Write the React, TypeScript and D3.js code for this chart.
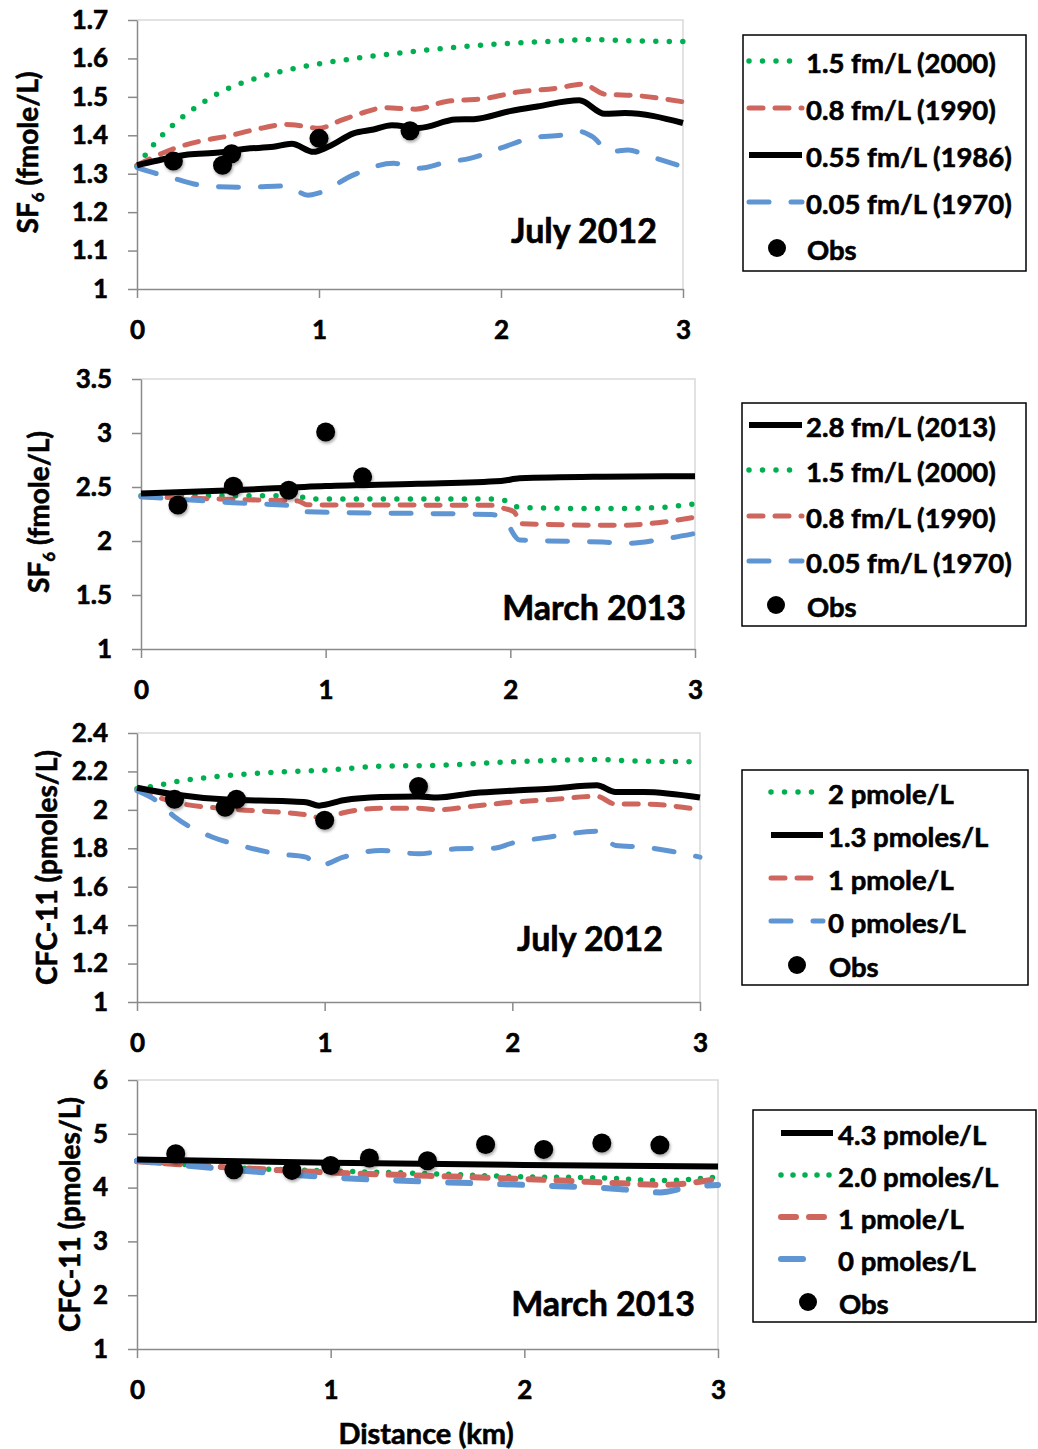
import React, { useEffect, useRef } from "react";
import * as d3 from "d3";

type Pt = [number, number];

// ---- SF6, July 2012 ----
const sf6Jul2000: Pt[] = [[0, 1.32], [0.04, 1.345], [0.09, 1.375], [0.2, 1.428], [0.3, 1.465], [0.47, 1.515], [0.6, 1.54], [0.8, 1.567], [1.0, 1.586], [1.2, 1.6], [1.4, 1.612], [1.7, 1.627], [2.0, 1.638], [2.3, 1.645], [2.49, 1.649], [2.7, 1.646], [3.0, 1.644]];
const sf6Jul1990: Pt[] = [[0, 1.322], [0.1, 1.345], [0.2, 1.365], [0.35, 1.385], [0.5, 1.398], [0.65, 1.415], [0.82, 1.428], [0.9, 1.425], [1.0, 1.418], [1.1, 1.435], [1.25, 1.46], [1.36, 1.472], [1.53, 1.468], [1.7, 1.488], [1.9, 1.495], [2.1, 1.513], [2.3, 1.522], [2.45, 1.533], [2.57, 1.507], [2.75, 1.503], [3.0, 1.487]];
const sf6Jul1986: Pt[] = [[0, 1.322], [0.1, 1.333], [0.28, 1.35], [0.45, 1.355], [0.6, 1.365], [0.75, 1.37], [0.85, 1.378], [0.97, 1.357], [1.05, 1.37], [1.19, 1.405], [1.3, 1.415], [1.4, 1.426], [1.55, 1.419], [1.75, 1.441], [1.85, 1.442], [2.05, 1.463], [2.2, 1.475], [2.43, 1.491], [2.57, 1.456], [2.68, 1.458], [3.0, 1.432]];
const sf6Jul1970: Pt[] = [[0, 1.316], [0.2, 1.288], [0.4, 1.267], [0.6, 1.265], [0.82, 1.268], [0.94, 1.244], [1.0, 1.25], [1.19, 1.297], [1.41, 1.327], [1.55, 1.314], [1.7, 1.33], [1.83, 1.34], [2.0, 1.367], [2.19, 1.395], [2.33, 1.4], [2.43, 1.41], [2.5, 1.397], [2.6, 1.358], [2.7, 1.362], [2.79, 1.349], [3.0, 1.318]];
const sf6JulObs: Pt[] = [[0.2, 1.333], [0.47, 1.322], [0.52, 1.352], [1.0, 1.392], [1.5, 1.412]];

// ---- SF6, March 2013 ----
const sf6Mar2013: Pt[] = [[0, 2.44], [0.5, 2.47], [1.0, 2.51], [1.5, 2.53], [1.95, 2.555], [2.05, 2.58], [2.5, 2.595], [3.0, 2.6]];
const sf6Mar2000: Pt[] = [[0, 2.42], [0.85, 2.42], [0.9, 2.39], [1.9, 2.39], [1.98, 2.37], [2.05, 2.31], [2.5, 2.3], [2.8, 2.31], [3.0, 2.345]];
const sf6Mar1990: Pt[] = [[0, 2.41], [0.5, 2.385], [0.85, 2.37], [0.9, 2.335], [1.9, 2.33], [1.97, 2.3], [2.02, 2.27], [2.06, 2.16], [2.6, 2.145], [2.8, 2.17], [3.0, 2.22]];
const sf6Mar1970: Pt[] = [[0, 2.41], [0.5, 2.355], [0.85, 2.32], [0.9, 2.27], [1.5, 2.255], [1.9, 2.245], [1.97, 2.19], [2.05, 2.01], [2.5, 1.99], [2.65, 1.98], [2.8, 2.01], [3.0, 2.07]];
const sf6MarObs: Pt[] = [[0.2, 2.334], [0.5, 2.507], [0.8, 2.47], [1.0, 3.01], [1.2, 2.594]];

// ---- CFC-11, July 2012 ----
const cfcJul2: Pt[] = [[0, 2.11], [0.1, 2.125], [0.2, 2.145], [0.5, 2.18], [0.75, 2.197], [1.0, 2.206], [1.3, 2.227], [1.6, 2.232], [2.0, 2.25], [2.45, 2.262], [2.6, 2.256], [3.0, 2.25]];
const cfcJul13: Pt[] = [[0, 2.115], [0.2, 2.08], [0.5, 2.052], [0.8, 2.045], [0.9, 2.04], [0.97, 2.022], [1.1, 2.05], [1.3, 2.067], [1.5, 2.07], [1.6, 2.064], [1.8, 2.088], [2.0, 2.1], [2.2, 2.11], [2.45, 2.128], [2.55, 2.093], [2.7, 2.093], [3.0, 2.064]];
const cfcJul1: Pt[] = [[0, 2.105], [0.2, 2.04], [0.5, 2.004], [0.8, 1.985], [0.9, 1.975], [1.0, 1.955], [1.1, 1.985], [1.3, 2.008], [1.5, 2.008], [1.6, 2.0], [1.8, 2.02], [2.0, 2.04], [2.2, 2.053], [2.45, 2.07], [2.55, 2.03], [2.7, 2.03], [3.0, 2.0]];
const cfcJul0: Pt[] = [[0, 2.1], [0.1, 2.05], [0.2, 1.964], [0.4, 1.859], [0.55, 1.815], [0.75, 1.771], [0.9, 1.754], [0.97, 1.71], [1.1, 1.754], [1.3, 1.789], [1.5, 1.771], [1.7, 1.797], [1.9, 1.8], [2.0, 1.827], [2.2, 1.859], [2.45, 1.889], [2.55, 1.815], [2.7, 1.806], [3.0, 1.754]];
const cfcJulObs: Pt[] = [[0.2, 2.055], [0.47, 2.013], [0.53, 2.055], [1.0, 1.946], [1.5, 2.122]];

// ---- CFC-11, March 2013 ----
const cfcMar43: Pt[] = [[0, 4.52], [1.0, 4.46], [2.0, 4.42], [3.0, 4.39]];
const cfcMar2: Pt[] = [[0, 4.5], [0.5, 4.37], [1.0, 4.31], [1.5, 4.26], [2.0, 4.2], [2.4, 4.18], [2.7, 4.13], [3.0, 4.2]];
const cfcMar1: Pt[] = [[0, 4.49], [0.5, 4.37], [1.0, 4.28], [1.5, 4.22], [2.0, 4.16], [2.5, 4.08], [2.7, 4.05], [3.0, 4.16]];
const cfcMar0: Pt[] = [[0, 4.5], [0.5, 4.33], [1.0, 4.19], [1.5, 4.11], [2.0, 4.05], [2.5, 3.97], [2.7, 3.91], [2.85, 4.01], [3.0, 4.05]];
const cfcMarObs: Pt[] = [[0.2, 4.63], [0.5, 4.33], [0.8, 4.32], [1.0, 4.41], [1.2, 4.55], [1.5, 4.5], [1.8, 4.8], [2.1, 4.71], [2.4, 4.83], [2.7, 4.79]];

const xTicks = [0, 1, 2, 3];
const yTicksSf6Jul = [1, 1.1, 1.2, 1.3, 1.4, 1.5, 1.6, 1.7];
const yTicksSf6Mar = [1, 1.5, 2, 2.5, 3, 3.5];
const yTicksCfcJul = [1, 1.2, 1.4, 1.6, 1.8, 2, 2.2, 2.4];
const yTicksCfcMar = [1, 2, 3, 4, 5, 6];

const FONT = "Lato, 'DejaVu Sans', sans-serif";
const GREEN = "#00b050";
const RED = "#cf665d";
const BLUE = "#5e95d2";
// thin outline makes Lato bold look closer to the heavier original face
const TXT = { fontFamily: FONT, fontWeight: "bold", stroke: "#000", strokeWidth: 0.6 } as any;

// line styles
const dotted = { stroke: GREEN, width: 5.5, dash: "0 13.5", cap: "round" };
const black = { stroke: "#000", width: 6, dash: "", cap: "butt" };
const redDash = { stroke: RED, width: 5, dash: "14 12", cap: "round" };
const blueDash = { stroke: BLUE, width: 5, dash: "20 22", cap: "round" };

type Style = typeof dotted;
type Series = { data: Pt[]; style: Style; name: string };

const Panel = ({ frame, yTicks, series, obs, legend, label, yTitle, sub }: any) => {
  const axRef = useRef<SVGGElement>(null);
  const x = d3.scaleLinear().domain([0, 3]).range([frame.left, frame.right]);
  const y = d3
    .scaleLinear()
    .domain([yTicks[0], yTicks[yTicks.length - 1]])
    .range([frame.bottom, frame.top]);

  useEffect(() => {
    const g = d3.select(axRef.current);
    g.selectAll("*").remove();

    const yAxis = d3.axisLeft(y).tickValues(yTicks).tickSize(9).tickSizeOuter(0).tickPadding(20).tickFormat((d: any) => String(d));
    const xAxis = d3.axisBottom(x).tickValues(xTicks).tickSize(9).tickSizeOuter(0).tickPadding(23).tickFormat((d: any) => String(d));

    g.append("g").attr("transform", `translate(${frame.left},0)`).call(yAxis);
    g.append("g").attr("transform", `translate(0,${frame.bottom})`).call(xAxis);

    g.selectAll("path.domain").attr("stroke", "#8a8a8a").attr("stroke-width", 1.5);
    g.selectAll(".tick line").attr("stroke", "#8a8a8a").attr("stroke-width", 1.5);
    g.selectAll("text")
      .attr("fill", "#000")
      .attr("stroke", "#000")
      .attr("stroke-width", 0.6)
      .attr("font-size", 26)
      .attr("font-weight", "bold")
      .attr("font-family", FONT);
    g.selectAll("g").attr("font-family", FONT);
  }, []);

  const line = d3
    .line<Pt>()
    .x((d) => x(d[0]))
    .y((d) => y(d[1]))
    .curve(d3.curveMonotoneX);

  const titleX = yTitle.x;
  const titleY = (frame.top + frame.bottom) / 2 + yTitle.dy;

  return (
    <g>
      {/* plot area border */}
      <path
        d={`M${frame.left},${frame.top}H${frame.right}V${frame.bottom}`}
        fill="none"
        stroke="#d9d9d9"
        strokeWidth={1.5}
      />
      <g ref={axRef} />
      {series.map((s: Series, i: number) => (
        <path
          key={i}
          d={line(s.data) || ""}
          fill="none"
          stroke={s.style.stroke}
          strokeWidth={s.style.width}
          strokeDasharray={s.style.dash}
          strokeLinecap={s.style.cap as any}
          strokeLinejoin="round"
        />
      ))}
      {obs.map((d: Pt, i: number) => (
        <circle key={i} cx={x(d[0])} cy={y(d[1])} r={9.5} fill="#000" filter="url(#shadow)" />
      ))}
      <text x={label.x} y={label.y} textAnchor="end" fontSize={34} {...TXT}>
        {label.text}
      </text>
      <text
        transform={`translate(${titleX},${titleY}) rotate(-90)`}
        textAnchor="middle"
        fontSize={28}
        {...TXT}
      >
        {sub ? (
          <>
            SF
            <tspan fontSize={17} dy={6}>6</tspan>
            <tspan dy={-6}> (fmole/L)</tspan>
          </>
        ) : (
          yTitle.text
        )}
      </text>
      <Legend {...legend} />
    </g>
  );
};

const Legend = ({ box, rows, lineX0, lineX1, textX, obsX }: any) => (
  <g>
    <rect
      x={box.x}
      y={box.y}
      width={box.w}
      height={box.h}
      fill="#fff"
      stroke="#000"
      strokeWidth={1.5}
    />
    {rows.map((r: any, i: number) => (
      <g key={i}>
        {r.style ? (
          <line
            x1={lineX0}
            x2={lineX1}
            y1={r.y}
            y2={r.y}
            stroke={r.style.stroke}
            strokeWidth={r.style.width}
            strokeDasharray={r.style.dash}
            strokeLinecap={r.style.cap}
          />
        ) : (
          <circle cx={obsX} cy={r.y} r={9} fill="#000" />
        )}
        <text x={r.style ? textX : textX + 1} y={r.y + 12} fontSize={27.5} {...TXT}>
          {r.text}
        </text>
      </g>
    ))}
  </g>
);

// panel 4 uses slightly different dash lengths
const redDash4 = { ...redDash, width: 6, dash: "15 13" };
const blueDash4 = { ...blueDash, width: 6, dash: "22 30" };
const dotted4 = { ...dotted, width: 5.5, dash: "0 12" };

export default function App() {
  return (
    <svg
      width={1038}
      height={1449}
      style={{ position: "absolute", left: 0, top: 0, background: "#fff" }}
    >
      <defs>
        <filter id="shadow" x="-50%" y="-50%" width="200%" height="200%">
          <feDropShadow dx="1" dy="2" stdDeviation="1.5" floodColor="#000" floodOpacity="0.35" />
        </filter>
      </defs>
      <rect width={1038} height={1449} fill="#fff" />

      <Panel
        frame={{ left: 137, right: 683, top: 20, bottom: 289 }}
        yTicks={yTicksSf6Jul}
        sub
        yTitle={{ x: 38, dy: -2 }}
        label={{ text: "July 2012", x: 657, y: 243 }}
        series={[
          { data: sf6Jul2000, style: dotted, name: "2000" },
          { data: sf6Jul1990, style: redDash, name: "1990" },
          { data: sf6Jul1970, style: blueDash, name: "1970" },
          { data: sf6Jul1986, style: black, name: "1986" },
        ]}
        obs={sf6JulObs}
        legend={{
          box: { x: 743, y: 35, w: 283, h: 236 },
          lineX0: 749,
          lineX1: 802,
          textX: 806,
          obsX: 777,
          rows: [
            { y: 61, text: "1.5 fm/L (2000)", style: dotted },
            { y: 108, text: "0.8 fm/L (1990)", style: redDash },
            { y: 155, text: "0.55 fm/L (1986)", style: black },
            { y: 202, text: "0.05 fm/L (1970)", style: blueDash },
            { y: 248, text: "Obs" },
          ],
        }}
      />

      <Panel
        frame={{ left: 141, right: 695, top: 379, bottom: 649 }}
        yTicks={yTicksSf6Mar}
        sub
        yTitle={{ x: 49, dy: -2 }}
        label={{ text: "March 2013", x: 686, y: 620 }}
        series={[
          { data: sf6Mar2000, style: dotted, name: "2000" },
          { data: sf6Mar1990, style: redDash, name: "1990" },
          { data: sf6Mar1970, style: blueDash, name: "1970" },
          { data: sf6Mar2013, style: black, name: "2013" },
        ]}
        obs={sf6MarObs}
        legend={{
          box: { x: 742, y: 403, w: 284, h: 223 },
          lineX0: 749,
          lineX1: 802,
          textX: 806,
          obsX: 776,
          rows: [
            { y: 425, text: "2.8 fm/L (2013)", style: black },
            { y: 470, text: "1.5 fm/L (2000)", style: dotted },
            { y: 516, text: "0.8 fm/L (1990)", style: redDash },
            { y: 561, text: "0.05 fm/L (1970)", style: blueDash },
            { y: 605, text: "Obs" },
          ],
        }}
      />

      <Panel
        frame={{ left: 137, right: 700, top: 733, bottom: 1002 }}
        yTicks={yTicksCfcJul}
        yTitle={{ x: 57, dy: 0, text: "CFC-11 (pmoles/L)" }}
        label={{ text: "July 2012", x: 663, y: 951 }}
        series={[
          { data: cfcJul2, style: dotted, name: "2" },
          { data: cfcJul1, style: redDash, name: "1" },
          { data: cfcJul0, style: blueDash, name: "0" },
          { data: cfcJul13, style: black, name: "1.3" },
        ]}
        obs={cfcJulObs}
        legend={{
          box: { x: 742, y: 770, w: 286, h: 215 },
          lineX0: 771,
          lineX1: 823,
          textX: 828,
          obsX: 797,
          rows: [
            { y: 792, text: "2 pmole/L", style: dotted },
            { y: 835, text: "1.3 pmoles/L", style: black },
            { y: 878, text: "1 pmole/L", style: redDash },
            { y: 921, text: "0 pmoles/L", style: blueDash },
            { y: 965, text: "Obs" },
          ],
        }}
      />

      <Panel
        frame={{ left: 137, right: 718, top: 1080, bottom: 1349 }}
        yTicks={yTicksCfcMar}
        yTitle={{ x: 80, dy: 0, text: "CFC-11 (pmoles/L)" }}
        label={{ text: "March 2013", x: 695, y: 1316 }}
        series={[
          { data: cfcMar2, style: dotted4, name: "2.0" },
          { data: cfcMar1, style: redDash4, name: "1" },
          { data: cfcMar0, style: blueDash4, name: "0" },
          { data: cfcMar43, style: black, name: "4.3" },
        ]}
        obs={cfcMarObs}
        legend={{
          box: { x: 753, y: 1110, w: 283, h: 212 },
          lineX0: 781,
          lineX1: 833,
          textX: 838,
          obsX: 808,
          rows: [
            { y: 1133, text: "4.3 pmole/L", style: black },
            { y: 1175, text: "2.0 pmoles/L", style: dotted4 },
            { y: 1217, text: "1 pmole/L", style: redDash4 },
            { y: 1259, text: "0 pmoles/L", style: blueDash4 },
            { y: 1302, text: "Obs" },
          ],
        }}
      />

      <text x={426} y={1444} textAnchor="middle" fontSize={29} {...TXT}>
        Distance (km)
      </text>
    </svg>
  );
}
